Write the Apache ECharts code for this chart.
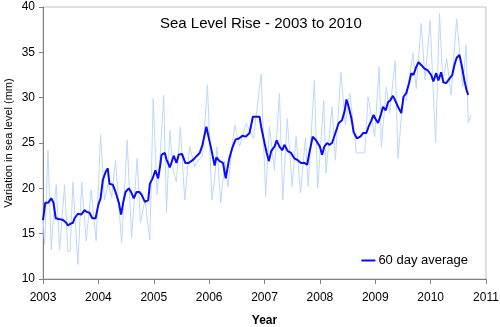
<!DOCTYPE html>
<html>
<head>
<meta charset="utf-8">
<script src="https://cdn.jsdelivr.net/npm/echarts@6/dist/echarts.min.js"></script>
<style>
html,body{margin:0;padding:0;background:#fff;}
#chart{width:500px;height:327px;}
</style>
</head>
<body>
<div id="chart"></div>
<script>
// 60 day average (dark blue)
var avgYears = [2003.00,2003.04,2003.09,2003.15,2003.19,2003.23,2003.30,2003.36,2003.42,2003.45,2003.50,2003.54,2003.57,2003.63,2003.69,2003.75,2003.79,2003.84,2003.89,2003.95,2004.00,2004.04,2004.08,2004.13,2004.17,2004.20,2004.26,2004.31,2004.37,2004.41,2004.45,2004.49,2004.55,2004.59,2004.64,2004.69,2004.74,2004.78,2004.84,2004.90,2004.93,2004.98,2005.03,2005.08,2005.12,2005.14,2005.20,2005.23,2005.29,2005.32,2005.36,2005.41,2005.45,2005.51,2005.57,2005.63,2005.72,2005.78,2005.83,2005.88,2005.95,2006.00,2006.04,2006.10,2006.13,2006.19,2006.25,2006.30,2006.36,2006.42,2006.48,2006.54,2006.60,2006.66,2006.73,2006.79,2006.91,2006.94,2007.00,2007.04,2007.08,2007.12,2007.18,2007.22,2007.27,2007.32,2007.36,2007.42,2007.48,2007.54,2007.60,2007.66,2007.72,2007.77,2007.81,2007.87,2007.93,2008.00,2008.04,2008.08,2008.13,2008.17,2008.22,2008.28,2008.34,2008.40,2008.45,2008.48,2008.52,2008.57,2008.61,2008.67,2008.73,2008.78,2008.84,2008.88,2008.93,2008.97,2009.00,2009.05,2009.10,2009.14,2009.19,2009.23,2009.27,2009.32,2009.36,2009.41,2009.47,2009.51,2009.56,2009.61,2009.65,2009.69,2009.74,2009.78,2009.83,2009.89,2009.95,2010.01,2010.05,2010.10,2010.14,2010.19,2010.23,2010.28,2010.34,2010.39,2010.43,2010.47,2010.52,2010.56,2010.61,2010.65,2010.68];
var avgValues = [16.5,18.4,18.4,18.9,18.4,16.7,16.6,16.5,16.2,15.9,16.1,16.2,16.7,17.2,17.1,17.6,17.4,17.3,16.7,16.7,18.2,18.9,20.9,21.8,22.2,20.5,20.4,19.6,18.4,17.1,18.5,19.6,20.0,19.6,18.9,19.6,19.6,19.3,18.5,18.7,20.5,21.1,22.0,21.1,22.7,23.7,23.9,23.2,22.3,22.5,23.6,22.8,23.7,23.8,22.8,22.8,23.2,23.6,23.9,24.8,26.8,25.4,24.3,22.5,23.4,23.0,22.8,21.1,23.2,24.5,25.4,25.5,25.8,25.7,26.1,27.9,27.9,26.8,25.0,23.9,23.0,24.1,24.6,25.3,24.6,24.2,24.8,24.1,23.9,23.3,23.1,22.8,22.8,22.6,23.9,25.7,25.3,24.6,23.7,24.6,25.0,24.8,25.0,26.1,27.2,27.5,28.6,29.8,29.0,27.7,26.2,25.5,25.7,26.1,26.1,26.8,27.5,28.1,27.7,27.2,28.1,29.0,28.6,29.5,29.7,30.2,29.7,29.0,28.3,30.1,30.5,31.6,32.7,32.5,33.4,33.9,33.6,33.2,33.0,32.5,31.8,32.7,31.9,32.8,31.7,31.6,32.1,32.5,33.6,34.4,34.7,33.6,31.9,30.8,30.3];

// raw measurements (light blue)
var rawYears = [2003.00,2003.03,2003.09,2003.15,2003.20,2003.24,2003.30,2003.39,2003.45,2003.49,2003.54,2003.63,2003.70,2003.78,2003.87,2003.96,2004.04,2004.11,2004.18,2004.24,2004.31,2004.42,2004.52,2004.60,2004.70,2004.76,2004.84,2004.93,2004.99,2005.06,2005.12,2005.18,2005.23,2005.29,2005.35,2005.41,2005.48,2005.56,2005.65,2005.74,2005.80,2005.88,2005.97,2006.05,2006.10,2006.14,2006.21,2006.28,2006.34,2006.46,2006.55,2006.67,2006.80,2006.94,2007.02,2007.09,2007.18,2007.27,2007.33,2007.41,2007.50,2007.57,2007.65,2007.74,2007.79,2007.90,2007.96,2008.07,2008.11,2008.22,2008.28,2008.38,2008.46,2008.54,2008.66,2008.81,2008.87,2008.99,2009.07,2009.11,2009.20,2009.26,2009.36,2009.41,2009.50,2009.56,2009.68,2009.74,2009.83,2009.90,2009.99,2010.09,2010.16,2010.22,2010.29,2010.37,2010.47,2010.58,2010.64,2010.68,2010.73];
var rawValues = [16.8,13.8,24.2,13.2,18.0,20.4,13.2,20.4,13.0,13.1,20.7,11.6,20.7,14.2,19.8,14.2,25.9,18.7,20.5,19.0,23.1,14.0,25.3,14.5,23.3,16.2,18.7,14.3,29.9,19.3,24.0,30.3,17.3,26.4,22.0,20.7,26.8,18.7,24.6,22.4,23.1,23.5,31.4,18.7,21.0,24.6,18.4,23.0,20.2,27.0,24.6,27.2,25.5,32.6,19.1,26.8,22.0,30.5,18.7,27.7,20.2,25.7,19.5,25.5,20.2,31.9,20.0,29.7,21.7,29.0,23.1,32.8,27.0,30.5,23.9,23.9,30.1,25.7,33.4,24.6,31.2,28.3,34.1,23.3,30.0,29.7,34.9,31.0,38.2,32.0,38.5,25.0,39.3,31.6,34.3,30.3,38.7,31.2,35.8,27.2,28.1];

var yearTicks = [2003,2011,1];
var levelTicks = [10,40,5];

function zip(xs, ys){ return xs.map(function(x,i){ return [x, ys[i]]; }); }

var chart = echarts.init(document.getElementById('chart'), null, {renderer:'canvas'});
var font = 'Arial, "Liberation Sans", sans-serif';
chart.setOption({
  animation:false,
  title:{text:'Sea Level Rise - 2003 to 2010', left:155, top:11,
    textStyle:{fontFamily:font, fontSize:15, fontWeight:'normal', color:'#000'}},
  legend:{data:['60 day average'], right:27, bottom:55, itemWidth:14, itemHeight:2, itemGap:4,
    icon:'rect',
    textStyle:{fontFamily:font, fontSize:13, color:'#000', padding:[0,0,0,-2]}},
  grid:{left:43, right:14, top:7, bottom:48, show:true, borderColor:'#c0c0c0', borderWidth:1,
    containLabel:false, outerBoundsMode:'none'},
  xAxis:{type:'value', min:yearTicks[0], max:yearTicks[1], interval:yearTicks[2],
    name:'Year', nameLocation:'middle', nameGap:36, nameMoveOverlap:false,
    nameTextStyle:{fontFamily:font, fontSize:12, fontWeight:'bold', color:'#000'},
    axisLine:{show:true, onZero:false, lineStyle:{color:'#808080', width:1}},
    axisTick:{show:true, length:5, inside:false, lineStyle:{color:'#808080'}},
    axisLabel:{fontFamily:font, fontSize:12, color:'#000', margin:13,
      formatter:function(v){ return String(v); }},
    splitLine:{show:false}},
  yAxis:{type:'value', min:levelTicks[0], max:levelTicks[1], interval:levelTicks[2],
    name:'Variation in sea level (mm)', nameLocation:'middle', nameGap:29, nameRotate:90,
    nameMoveOverlap:false,
    nameTextStyle:{fontFamily:font, fontSize:11, color:'#000'},
    axisLine:{show:true, onZero:false, lineStyle:{color:'#808080', width:1}},
    axisTick:{show:true, length:4, inside:false, lineStyle:{color:'#808080'}},
    axisLabel:{fontFamily:font, fontSize:12, color:'#000', margin:8},
    splitLine:{show:false}},
  series:[
    {name:'raw', type:'line', data:zip(rawYears, rawValues), showSymbol:false, symbol:'none',
     lineStyle:{color:'#bcd8fc', width:1}, z:1},
    {name:'60 day average', type:'line', data:zip(avgYears, avgValues), showSymbol:false, symbol:'none',
     itemStyle:{color:'#0a0aff'},
     lineStyle:{color:'#0a0aff', width:2}, z:2}
  ]
});
</script>
</body>
</html>
